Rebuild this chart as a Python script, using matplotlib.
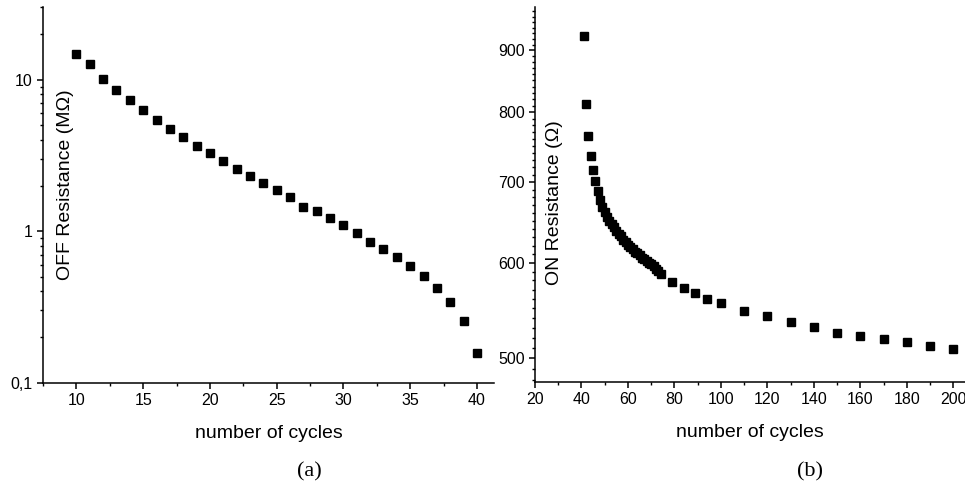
import numpy as np
import matplotlib
matplotlib.use('Agg')
import matplotlib.pyplot as plt
from matplotlib.ticker import MultipleLocator, FixedLocator, FuncFormatter, NullFormatter, LogLocator

plt.rcParams['font.family'] = ['Liberation Sans', 'DejaVu Sans']

# (a) OFF resistance, MOhm
cycles_off = list(range(10, 41))
r_off = [14.8, 12.6, 10.1, 8.5, 7.3, 6.27, 5.45, 4.75, 4.16, 3.67, 3.26,
         2.90, 2.59, 2.32, 2.08, 1.86, 1.67, 1.45, 1.35, 1.22, 1.09,
         0.966, 0.85, 0.764, 0.674, 0.587, 0.505, 0.423, 0.34, 0.256, 0.156]

# (b) ON resistance, Ohm
cycles_on = [41, 42, 43, 44, 45, 46] + list(range(47, 75)) + \
            [79, 84, 89, 94, 100, 110, 120, 130, 140, 150, 160, 170, 180, 190, 200]
r_on = [925, 812, 765, 736, 716, 701,
        688, 677, 668, 661, 655, 650, 646, 642, 638, 634,
        631, 627, 624, 621, 618, 616, 613, 611, 609, 606,
        604, 602, 600, 598, 596, 593, 591, 587,
        578, 571.5, 566, 560, 555.8, 547.4, 541.5, 536, 530.2, 525.1,
        521.2, 518.2, 515.2, 511.6, 509]

fig = plt.figure(figsize=(9.65, 4.88), dpi=100)
ax1 = fig.add_axes([0.0446, 0.2158, 0.4676, 0.7692])
ax2 = fig.add_axes([0.5544, 0.2178, 0.4456, 0.7679])

for ax in (ax1, ax2):
    for s in ('top', 'right'):
        ax.spines[s].set_visible(False)
    for s in ('left', 'bottom'):
        ax.spines[s].set_linewidth(1.1)
    ax.tick_params(which='major', direction='out', length=4.5, width=1.1, labelsize=11.5, pad=3)
    ax.tick_params(which='minor', direction='out', length=2.3, width=1.0)

# left panel
ax1.plot(cycles_off, r_off, 's', color='black', markersize=5.5)
ax1.set_yscale('log')
ax1.set_xlim(7.5, 41.3)
ax1.set_ylim(0.1, 30)
ax1.xaxis.set_major_locator(FixedLocator([10, 15, 20, 25, 30, 35, 40]))
ax1.xaxis.set_minor_locator(MultipleLocator(2.5))
ax1.yaxis.set_major_locator(FixedLocator([0.1, 1, 10]))
ax1.yaxis.set_minor_locator(LogLocator(base=10, subs=np.arange(2, 10)))
ax1.yaxis.set_major_formatter(FuncFormatter(lambda v, p: {0.1: '0,1', 1: '1', 10: '10'}.get(round(v, 3), '')))
ax1.yaxis.set_minor_formatter(NullFormatter())
ax1.text(0.05, 0.527, 'OFF Resistance (M\u03a9)', transform=ax1.transAxes,
         rotation=90, ha='center', va='center', fontsize=14)
ax1.set_xlabel('number of cycles', fontsize=14, labelpad=12)

# right panel
ax2.plot(cycles_on, r_on, 's', color='black', markersize=5.5)
ax2.set_yscale('log')
ax2.set_xlim(20, 205)
ax2.set_ylim(478, 978)
ax2.xaxis.set_major_locator(MultipleLocator(20))
ax2.xaxis.set_minor_locator(MultipleLocator(10))
ax2.yaxis.set_major_locator(FixedLocator([500, 600, 700, 800, 900]))
ax2.yaxis.set_minor_locator(FixedLocator(list(range(480, 980, 10))))
ax2.yaxis.set_major_formatter(FuncFormatter(lambda v, p: '%d' % round(v)))
ax2.yaxis.set_minor_formatter(NullFormatter())
ax2.text(0.045, 0.478, 'ON Resistance (\u03a9)', transform=ax2.transAxes,
         rotation=90, ha='center', va='center', fontsize=14)
ax2.set_xlabel('number of cycles', fontsize=14, labelpad=12)

fig.text(0.321, 0.034, '(a)', ha='center', va='center', fontsize=16, family='Liberation Serif')
fig.text(0.839, 0.034, '(b)', ha='center', va='center', fontsize=16, family='Liberation Serif')

fig.savefig('out.png', dpi=100)
